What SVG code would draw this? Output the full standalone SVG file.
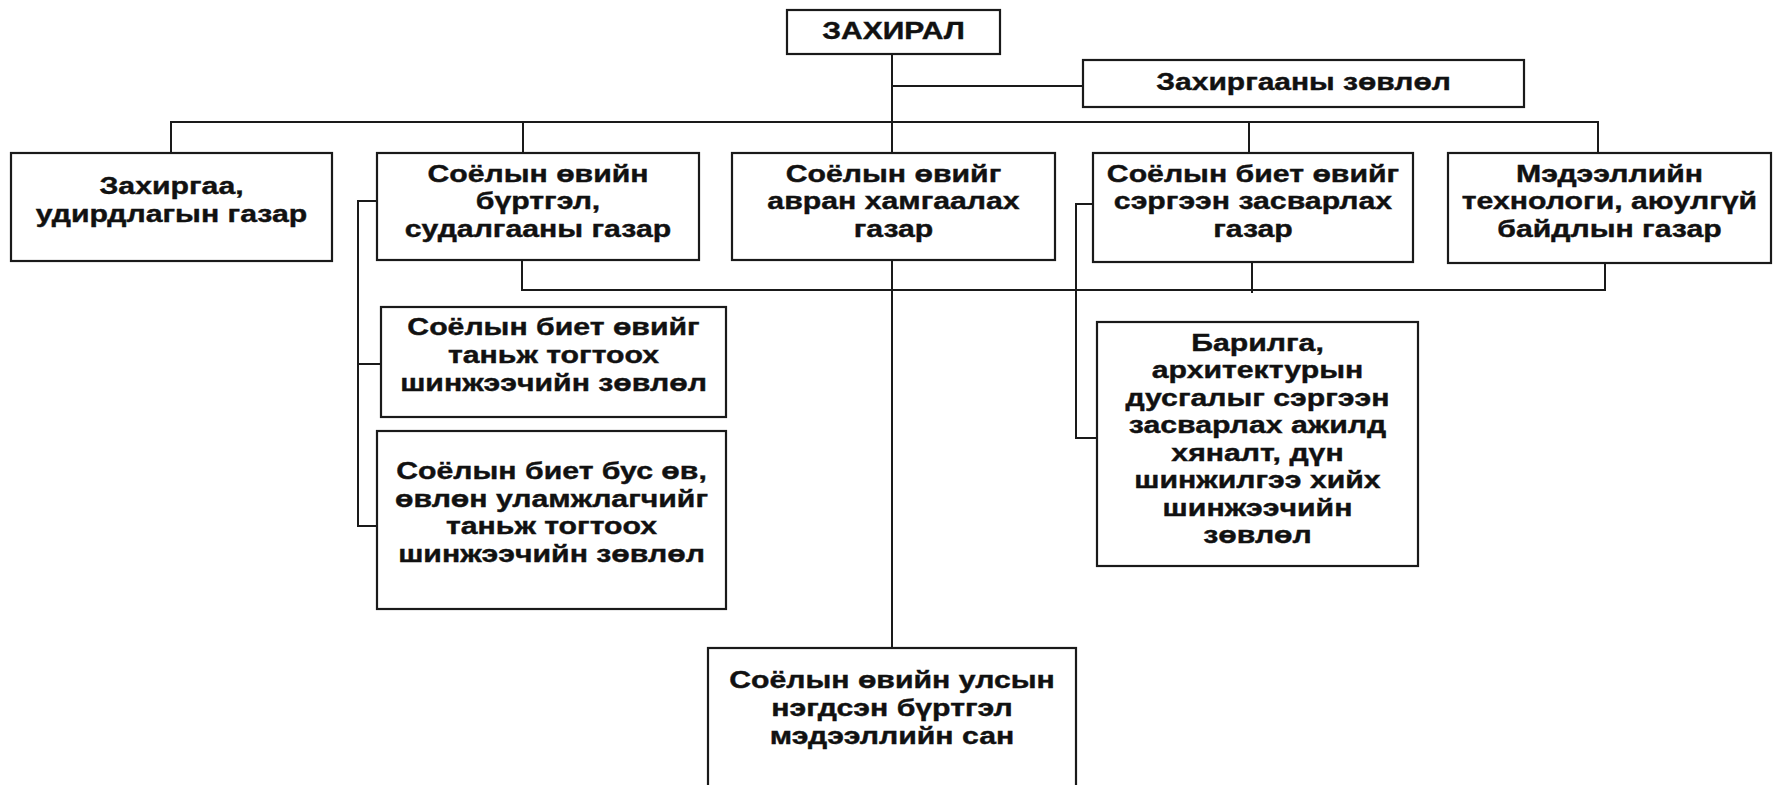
<svg xmlns="http://www.w3.org/2000/svg" width="1777" height="785" viewBox="0 0 1777 785">
<style>
.box{fill:#fff;stroke:#1a1a1a;stroke-width:2.2}
.ln{fill:none;stroke:#1a1a1a;stroke-width:2}
.t{font-family:"Liberation Sans",Arial,sans-serif;font-weight:bold;font-size:24px;fill:#111;stroke:#111;stroke-width:0.4;text-anchor:middle}
</style>
<rect width="1777" height="785" fill="#fff"/>
<g id="connectors">
<path class="ln" d="M892,54 V153"/>
<path class="ln" d="M892,86 H1083"/>
<path class="ln" d="M171,153 V122 H1598 V153"/>
<path class="ln" d="M523,122 V153"/>
<path class="ln" d="M1249,122 V153"/>
<path class="ln" d="M892,260 V648"/>
<path class="ln" d="M522,260 V290 H1605 V263"/>
<path class="ln" d="M1252,262 V293"/>
<path class="ln" d="M377,201 H358 V526 H377"/>
<path class="ln" d="M358,364 H381"/>
<path class="ln" d="M1093,204 H1076 V438 H1101"/>
</g>
<g id="director">
<rect class="box" x="787" y="10" width="213" height="44"/>
<text class="t" transform="translate(893.5 0) scale(1.25 1)"><tspan x="0" y="39">ЗАХИРАЛ</tspan></text>
</g>
<g id="council">
<rect class="box" x="1083" y="60" width="441" height="47"/>
<text class="t" transform="translate(1303.5 0) scale(1.25 1)"><tspan x="0" y="90">Захиргааны зөвлөл</tspan></text>
</g>
<g id="admin">
<rect class="box" x="11" y="153" width="321" height="108"/>
<text class="t" transform="translate(171.5 0) scale(1.26 1)"><tspan x="0" y="194">Захиргаа,</tspan><tspan x="0" y="222">удирдлагын газар</tspan></text>
</g>
<g id="registry">
<rect class="box" x="377" y="153" width="322" height="107"/>
<text class="t" transform="translate(538 0) scale(1.26 1)"><tspan x="0" y="182">Соёлын өвийн</tspan><tspan x="0" y="209.5">бүртгэл,</tspan><tspan x="0" y="237">судалгааны газар</tspan></text>
</g>
<g id="protection">
<rect class="box" x="732" y="153" width="323" height="107"/>
<text class="t" transform="translate(893.5 0) scale(1.26 1)"><tspan x="0" y="182">Соёлын өвийг</tspan><tspan x="0" y="209.5">авран хамгаалах</tspan><tspan x="0" y="237">газар</tspan></text>
</g>
<g id="restoration">
<rect class="box" x="1093" y="153" width="320" height="109"/>
<text class="t" transform="translate(1253 0) scale(1.26 1)"><tspan x="0" y="182">Соёлын биет өвийг</tspan><tspan x="0" y="209.5">сэргээн засварлах</tspan><tspan x="0" y="237">газар</tspan></text>
</g>
<g id="it">
<rect class="box" x="1448" y="153" width="323" height="110"/>
<text class="t" transform="translate(1609.5 0) scale(1.26 1)"><tspan x="0" y="182">Мэдээллийн</tspan><tspan x="0" y="209.5">технологи, аюулгүй</tspan><tspan x="0" y="237">байдлын газар</tspan></text>
</g>
<g id="tangible-council">
<rect class="box" x="381" y="307" width="345" height="110"/>
<text class="t" transform="translate(553.5 0) scale(1.26 1)"><tspan x="0" y="335">Соёлын биет өвийг</tspan><tspan x="0" y="363">таньж тогтоох</tspan><tspan x="0" y="391">шинжээчийн зөвлөл</tspan></text>
</g>
<g id="intangible-council">
<rect class="box" x="377" y="431" width="349" height="178"/>
<text class="t" transform="translate(551.5 0) scale(1.26 1)"><tspan x="0" y="479">Соёлын биет бус өв,</tspan><tspan x="0" y="507">өвлөн уламжлагчийг</tspan><tspan x="0" y="534">таньж тогтоох</tspan><tspan x="0" y="562">шинжээчийн зөвлөл</tspan></text>
</g>
<g id="building-council">
<rect class="box" x="1097" y="322" width="321" height="244"/>
<text class="t" transform="translate(1257.5 0) scale(1.26 1)"><tspan x="0" y="351">Барилга,</tspan><tspan x="0" y="378.5">архитектурын</tspan><tspan x="0" y="406">дусгалыг сэргээн</tspan><tspan x="0" y="433.5">засварлах ажилд</tspan><tspan x="0" y="461">хяналт, дүн</tspan><tspan x="0" y="488.5">шинжилгээ хийх</tspan><tspan x="0" y="516">шинжээчийн</tspan><tspan x="0" y="543.5">зөвлөл</tspan></text>
</g>
<g id="database">
<rect class="box" x="708" y="648" width="368" height="160"/>
<text class="t" transform="translate(892 0) scale(1.26 1)"><tspan x="0" y="688">Соёлын өвийн улсын</tspan><tspan x="0" y="716">нэгдсэн бүртгэл</tspan><tspan x="0" y="744">мэдээллийн сан</tspan></text>
</g>
</svg>
